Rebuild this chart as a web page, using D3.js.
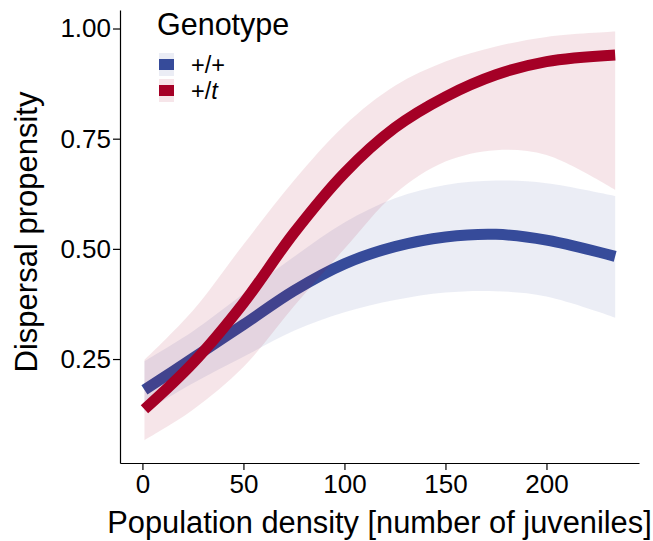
<!DOCTYPE html>
<html>
<head>
<meta charset="utf-8">
<script src="https://cdn.jsdelivr.net/npm/d3@7"></script>
<style>
  body { margin: 0; background: #fff; }
  text { font-family: "Liberation Sans", Arial, sans-serif; fill: #000; }
  .axis path, .axis line { stroke: #000; stroke-width: 1.2; }
</style>
</head>
<body>
<div id="chart"></div>
<script>
// ... data
const densityX = [1, 25, 50, 75, 100, 125, 150, 175, 200, 234];

const wildFit = [0.180, 0.252, 0.328, 0.405, 0.466, 0.505, 0.527, 0.533, 0.520, 0.483];
const wildLower = [0.130, 0.195, 0.255, 0.314, 0.356, 0.384, 0.401, 0.404, 0.392, 0.344];
const wildUpper = [0.245, 0.313, 0.398, 0.482, 0.560, 0.615, 0.645, 0.655, 0.649, 0.620];

const tFit = [0.136, 0.241, 0.377, 0.536, 0.672, 0.775, 0.845, 0.895, 0.925, 0.940];
const tLower = [0.066, 0.135, 0.232, 0.370, 0.500, 0.625, 0.698, 0.724, 0.713, 0.634];
const tUpper = [0.248, 0.360, 0.510, 0.655, 0.780, 0.870, 0.925, 0.959, 0.981, 0.993];

const genotypes = ['+/+', '+/t'];
const colors = ['#364B9A', '#A50026'];

const xTicks = [0, 50, 100, 150, 200];
const yTicks = [0.25, 0.50, 0.75, 1.00];

const width = 653;
const height = 541;

const x = d3.scaleLinear()
    .domain([-11.1, 245.8])
    .range([120, 639]);

const y = d3.scaleLinear()
    .domain([0.0141, 1.042])
    .range([463, 10]);

const svg = d3.select('#chart').append('svg')
    .attr('width', width)
    .attr('height', height);

const groups = [
    { name: genotypes[0], color: colors[0], fit: wildFit, lo: wildLower, hi: wildUpper },
    { name: genotypes[1], color: colors[1], fit: tFit, lo: tLower, hi: tUpper }
];

const area = d3.area()
    .x(d => x(d.x))
    .y0(d => y(d.lo))
    .y1(d => y(d.hi))
    .curve(d3.curveCatmullRom.alpha(0.5));

const line = d3.line()
    .x(d => x(d.x))
    .y(d => y(d.fit))
    .curve(d3.curveCatmullRom.alpha(0.5));

// ... ribbon then line, one group after the other
groups.forEach(g => {
    const pts = densityX.map((v, i) => ({ x: v, fit: g.fit[i], lo: g.lo[i], hi: g.hi[i] }));

    svg.append('path')
        .datum(pts)
        .attr('d', area)
        .attr('fill', g.color)
        .attr('fill-opacity', 0.1);

    svg.append('path')
        .datum(pts)
        .attr('d', line)
        .attr('fill', 'none')
        .attr('stroke', g.color)
        .attr('stroke-width', 11)
        .attr('stroke-linecap', 'butt');
});

// ... axes
svg.append('g')
    .attr('class', 'axis')
    .attr('transform', 'translate(0,463)')
    .call(d3.axisBottom(x).tickValues(xTicks).tickSize(7).tickSizeOuter(0).tickPadding(5))
    .selectAll('text')
    .style('font-size', '26px');

svg.append('g')
    .attr('class', 'axis')
    .attr('transform', 'translate(120,0)')
    .call(d3.axisLeft(y).tickValues(yTicks).tickFormat(d3.format('.2f')).tickSize(7).tickSizeOuter(0).tickPadding(2))
    .selectAll('text')
    .style('font-size', '26px');

svg.selectAll('.axis text').attr('fill', '#000');

// ... axis titles
svg.append('text')
    .attr('x', 379.5)
    .attr('y', 533)
    .attr('text-anchor', 'middle')
    .style('font-size', '30.8px')
    .text('Population density [number of juveniles]');

svg.append('text')
    .attr('transform', 'rotate(-90)')
    .attr('x', -232)
    .attr('y', 37)
    .attr('text-anchor', 'middle')
    .style('font-size', '31px')
    .text('Dispersal propensity');

// ... legend
const legend = svg.append('g');

legend.append('text')
    .attr('x', 157)
    .attr('y', 35)
    .style('font-size', '30.5px')
    .text('Genotype');

groups.forEach((g, i) => {
    const top = 53 + i * 26;
    legend.append('rect')
        .attr('x', 159)
        .attr('y', top)
        .attr('width', 15)
        .attr('height', 23)
        .attr('fill', g.color)
        .attr('fill-opacity', 0.1);
    legend.append('rect')
        .attr('x', 159)
        .attr('y', top + 6)
        .attr('width', 15)
        .attr('height', 11)
        .attr('fill', g.color);
    const t = legend.append('text')
        .attr('x', 191)
        .attr('y', top + 11.5 + i * 0.5)
        .attr('dy', '0.35em')
        .style('font-size', '23.5px');
    if (i === 0) {
        t.text(g.name);
    } else {
        t.append('tspan').text('+/');
        t.append('tspan').style('font-style', 'italic').text('t');
    }
});
</script>
</body>
</html>
